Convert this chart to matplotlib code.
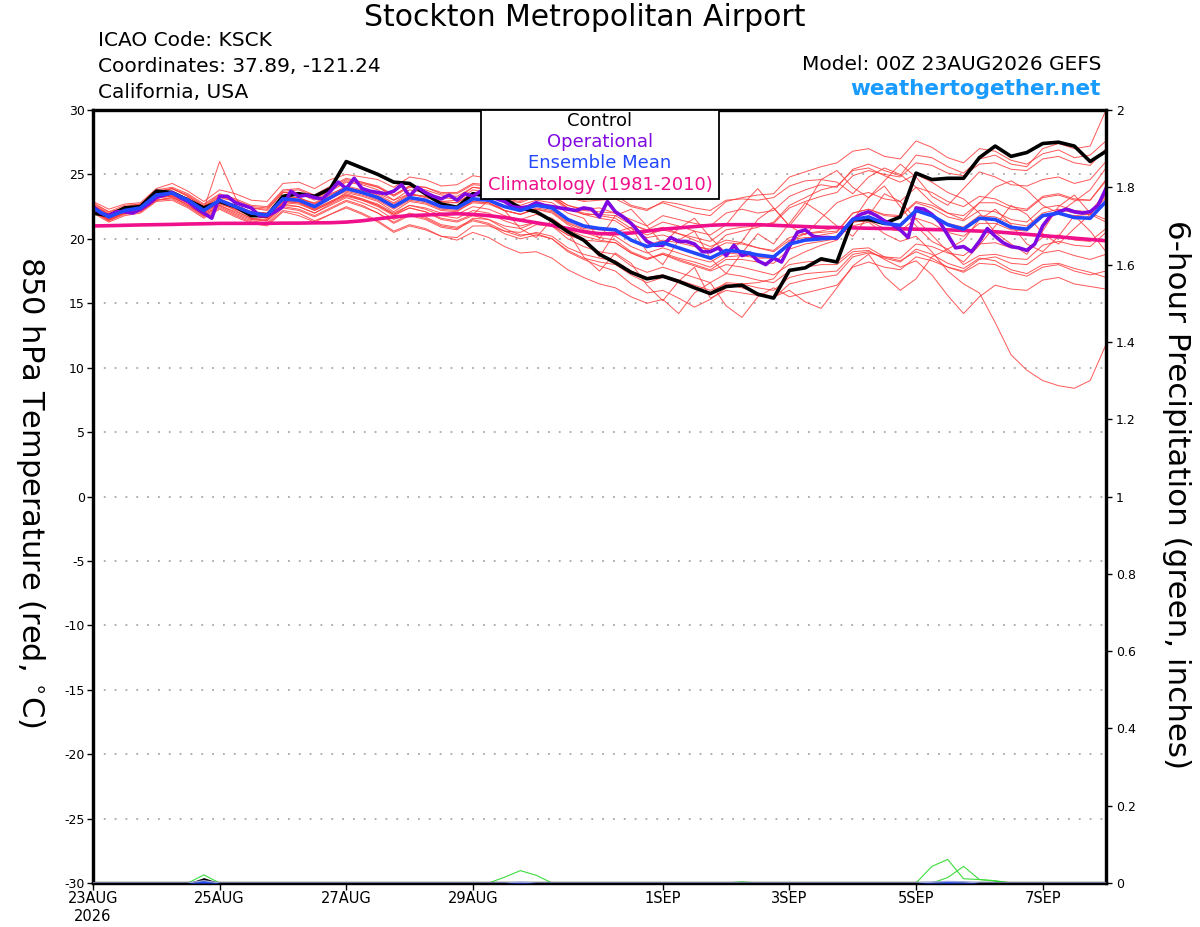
import matplotlib
matplotlib.use("Agg")
import matplotlib.pyplot as plt
from matplotlib.patches import Rectangle
from matplotlib.ticker import FormatStrFormatter
import numpy as np
import pandas as pd

START = "2026-08-23 00:00"
N6 = 65   # 6-hourly GEFS steps over 16 days
N3 = 129  # 3-hourly operational steps

CONTROL = [
    22.0, 21.8, 22.4, 22.5, 23.7, 23.6, 23.0, 22.4, 22.9, 22.5, 21.8, 21.8, 23.3, 23.5, 23.3, 23.9,
    26.0, 25.5, 25.0, 24.4, 24.3, 23.5, 22.7, 22.45, 23.5, 23.3, 23.1, 22.4, 22.1, 21.4, 20.55, 19.9,
    18.8, 18.15, 17.4, 16.9, 17.1, 16.7, 16.2, 15.75, 16.3, 16.4, 15.7, 15.4, 17.55, 17.75, 18.45, 18.2,
    21.5, 21.5, 21.2, 21.7, 25.1, 24.6, 24.7, 24.7, 26.3, 27.2, 26.4, 26.7, 27.4, 27.5, 27.2, 26.0, 26.8,
]

ENS_MEAN = [
    22.4, 21.7, 22.2, 22.4, 23.4, 23.55, 23.0, 22.2, 23.0, 22.5, 22.0, 21.85, 23.1, 23.0, 22.5, 23.2,
    23.9, 23.6, 23.2, 22.5, 23.2, 23.0, 22.5, 22.4, 23.1, 23.0, 22.5, 22.2, 22.6, 22.4, 21.5, 21.0,
    20.8, 20.7, 19.9, 19.4, 19.7, 19.3, 18.9, 18.5, 19.1, 19.0, 18.75, 18.6, 19.6, 19.9, 20.0, 20.1,
    21.5, 21.7, 21.2, 21.05, 22.2, 21.8, 21.1, 20.75, 21.6, 21.5, 20.9, 20.75, 21.8, 22.0, 21.65, 21.6, 22.9,
]

CLIMO = [
    21.0, 21.02, 21.05, 21.08, 21.1, 21.12, 21.15, 21.17, 21.2, 21.2, 21.2, 21.2, 21.22, 21.22, 21.24, 21.25,
    21.3, 21.4, 21.55, 21.7, 21.8, 21.85, 21.9, 21.95, 21.9, 21.8, 21.65, 21.45, 21.25, 21.05, 20.8, 20.55,
    20.4, 20.4, 20.45, 20.6, 20.75, 20.85, 20.95, 21.05, 21.1, 21.1, 21.1, 21.05, 21.0, 20.95, 20.9, 20.88,
    20.85, 20.82, 20.8, 20.78, 20.75, 20.72, 20.7, 20.65, 20.6, 20.55, 20.45, 20.35, 20.25, 20.15, 20.05, 19.95, 19.85,
]

OPERATIONAL = [
    22.5, 22.0, 21.8, 22.1, 22.1, 22.0, 22.3, 22.7, 23.2, 23.4, 23.6, 23.2, 22.9, 22.4, 22.0, 21.6,
    23.3, 23.3, 22.8, 22.6, 22.4, 21.8, 21.8, 22.1, 22.5, 23.7, 23.3, 23.4, 23.2, 23.1, 23.7, 24.4,
    23.9, 24.7, 23.9, 23.7, 23.6, 23.5, 23.7, 24.2, 23.3, 24.0, 23.6, 23.3, 23.1, 23.4, 23.0, 23.5,
    23.3, 23.7, 23.4, 23.1, 22.9, 22.5, 22.4, 22.5, 22.8, 22.6, 22.5, 22.4, 22.3, 22.2, 22.4, 22.3,
    21.7, 22.9, 22.1, 21.7, 21.2, 20.5, 19.8, 19.5, 19.5, 20.1, 19.8, 19.8, 19.6, 19.0, 19.0, 19.3,
    18.7, 19.5, 18.7, 18.9, 18.3, 18.0, 18.5, 18.2, 19.4, 20.5, 20.7, 20.2, 20.1, 20.1, 20.05, 20.8,
    21.5, 21.9, 22.1, 21.8, 21.4, 21.1, 20.7, 20.1, 22.4, 22.3, 21.9, 21.3, 20.3, 19.3, 19.4, 19.0,
    19.8, 20.8, 20.2, 19.7, 19.4, 19.3, 19.1, 19.6, 21.0, 21.8, 22.1, 22.3, 22.1, 22.0, 22.1, 22.6,
    23.9,
]

# 20 perturbed members (red)
MEMBERS = [
    [22.6, 21.9, 22.5, 22.7, 23.6, 23.9, 23.3, 22.5, 23.2, 22.9, 22.4, 22.2, 23.6, 23.5, 23.0, 23.7,
     24.4, 24.2, 23.8, 23.0, 23.8, 23.6, 23.2, 23.1, 24.0, 23.8, 23.3, 23.0, 23.6, 23.3, 22.6, 22.3,
     22.4, 22.0, 21.5, 21.0, 21.8, 21.5, 21.2, 21.0, 22.0, 22.3, 22.0, 22.2, 23.3, 23.8, 24.2, 24.0,
     25.4, 25.8, 25.3, 24.9, 26.5, 26.3, 25.6, 25.1, 26.2, 26.5, 25.8, 25.6, 27.0, 27.4, 27.0, 27.2, 30.0],
    [22.9, 22.3, 22.7, 22.8, 23.9, 24.3, 23.7, 22.9, 23.8, 23.5, 23.0, 22.9, 24.3, 24.4, 23.9, 24.6,
     25.0, 24.8, 24.6, 24.0, 24.8, 24.6, 24.1, 24.2, 24.9, 24.7, 24.1, 23.9, 24.3, 24.0, 23.3, 23.0,
     23.2, 23.4, 22.6, 22.3, 22.8, 22.4, 22.0, 21.8, 22.9, 23.2, 23.4, 23.5, 24.8, 25.2, 25.6, 25.9,
     26.8, 27.0, 26.4, 26.2, 27.6, 27.1, 26.3, 25.9, 27.0, 26.8, 26.1, 25.8, 26.6, 26.9, 26.3, 26.5, 27.6],
    [22.1, 21.4, 21.9, 22.1, 23.0, 23.2, 22.7, 21.9, 22.6, 22.1, 21.6, 21.4, 22.6, 22.5, 22.0, 22.7,
     23.3, 23.0, 22.6, 21.9, 22.6, 22.4, 22.0, 21.9, 22.5, 22.3, 21.8, 21.5, 21.9, 21.6, 20.7, 20.2,
     19.9, 19.7, 18.9, 18.4, 18.9, 18.5, 18.2, 17.8, 18.6, 18.7, 18.5, 18.5, 19.8, 20.4, 20.6, 20.9,
     21.0, 21.3, 20.4, 19.8, 20.2, 19.0, 17.5, 16.5, 15.8, 13.5, 11.0, 9.8, 9.0, 8.6, 8.4, 9.0, 11.8],
    [22.0, 21.3, 21.8, 22.0, 22.9, 23.0, 22.4, 21.6, 22.3, 21.7, 21.2, 21.0, 22.1, 21.8, 21.3, 21.9,
     22.5, 22.0, 21.4, 20.6, 21.1, 20.8, 20.2, 19.9, 20.5, 20.1, 19.4, 18.9, 19.0, 18.5, 17.6, 17.0,
     16.5, 16.2, 15.5, 15.0, 15.3, 14.2, 15.8, 16.6, 14.8, 13.9, 15.5, 16.2, 15.5, 15.8, 16.1, 16.4,
     17.8, 18.2, 17.8, 17.6, 18.6, 18.3, 17.8, 17.5, 18.4, 18.6, 18.1, 18.0, 18.9, 19.1, 18.7, 18.4, 18.8],
    [22.3, 21.6, 22.1, 22.2, 23.2, 23.3, 22.8, 22.0, 22.8, 22.3, 21.8, 21.6, 22.8, 22.7, 22.2, 22.8,
     23.4, 23.1, 22.7, 22.0, 22.6, 22.3, 21.8, 21.6, 22.2, 22.0, 21.4, 21.0, 21.3, 21.0, 20.0, 19.4,
     19.0, 18.8, 17.9, 17.4, 17.8, 17.4, 17.0, 16.6, 17.3, 17.1, 16.8, 16.6, 17.5, 17.8, 18.0, 18.0,
     19.0, 19.1, 18.4, 17.8, 18.3, 17.2, 15.6, 14.2, 15.5, 16.4, 16.1, 16.0, 16.8, 17.0, 16.5, 16.3, 16.1],
    [22.7, 22.1, 22.4, 22.6, 23.6, 23.9, 23.4, 22.6, 23.4, 23.0, 22.5, 22.4, 23.7, 23.8, 23.3, 24.0,
     24.6, 24.4, 24.1, 23.4, 24.1, 24.0, 23.6, 23.6, 24.3, 24.2, 23.7, 23.5, 24.0, 23.9, 23.2, 22.9,
     23.0, 23.1, 22.5, 22.2, 22.9, 22.7, 22.4, 22.2, 23.0, 23.1, 23.0, 23.2, 24.1, 24.5, 24.6, 24.4,
     23.5, 24.8, 25.5, 25.0, 24.0, 22.8, 22.0, 21.5, 22.8, 24.0, 24.5, 23.8, 22.6, 22.0, 22.9, 23.8, 25.5],
    [22.2, 21.5, 22.0, 22.3, 23.2, 23.3, 22.6, 21.8, 22.5, 21.9, 21.4, 21.2, 22.4, 22.2, 21.7, 22.3,
     22.9, 22.5, 22.0, 21.3, 21.9, 21.6, 21.0, 20.8, 21.4, 21.1, 20.4, 20.0, 20.3, 20.0, 19.1, 18.5,
     18.2, 18.0, 17.2, 16.6, 17.0, 16.6, 16.2, 15.8, 16.6, 16.5, 16.2, 16.0, 17.0, 17.3, 17.4, 17.5,
     18.8, 19.0, 18.5, 18.2, 19.2, 18.8, 18.1, 17.7, 18.5, 18.3, 17.6, 17.3, 18.0, 18.1, 17.7, 17.4, 17.0],
    [22.5, 21.8, 22.3, 22.5, 23.5, 23.7, 23.1, 22.3, 23.1, 22.6, 22.1, 22.0, 23.3, 23.2, 22.7, 23.4,
     24.1, 23.8, 23.4, 22.8, 23.5, 23.3, 22.8, 22.8, 23.5, 23.4, 22.9, 22.6, 23.0, 22.8, 22.0, 21.6,
     20.0, 21.8, 22.3, 21.0, 19.6, 20.8, 21.6, 20.1, 18.9, 19.8, 21.5, 22.4, 21.0, 20.3, 21.6, 22.8,
     23.3, 23.6, 23.1, 22.9, 24.0, 23.6, 22.9, 22.5, 23.3, 23.1, 22.5, 22.3, 23.3, 23.5, 23.1, 23.0, 24.5],
    [22.4, 21.7, 22.1, 22.3, 23.3, 23.4, 22.9, 22.1, 22.9, 22.4, 21.9, 21.8, 23.0, 22.9, 22.3, 22.9,
     23.5, 23.1, 22.6, 21.9, 22.4, 22.1, 21.5, 21.3, 21.8, 21.5, 20.8, 20.3, 20.4, 20.0, 19.0, 18.4,
     17.9, 17.5, 16.5, 15.8, 16.0, 15.4, 14.7, 15.3, 16.2, 16.5, 16.6, 16.9, 18.4, 19.0, 19.5, 19.9,
     21.3, 21.6, 21.1, 21.0, 22.1, 21.8, 21.2, 20.9, 21.8, 21.7, 21.2, 21.0, 22.0, 22.3, 22.0, 21.9, 23.2],
    [22.3, 21.6, 22.2, 22.5, 23.5, 23.4, 23.2, 22.3, 26.0, 23.2, 21.5, 21.4, 22.8, 23.1, 22.8, 23.5,
     24.0, 23.7, 23.5, 23.0, 23.5, 23.2, 22.9, 23.0, 23.8, 23.6, 23.0, 22.8, 23.3, 23.1, 22.3, 21.9,
     21.9, 21.8, 21.1, 20.7, 21.3, 21.0, 20.6, 20.3, 21.1, 22.6, 23.9, 22.4, 21.0, 22.5, 24.6, 25.3,
     24.0, 23.2, 24.5, 25.8, 24.8, 23.3, 22.6, 23.9, 25.2, 24.8, 24.2, 24.1, 24.6, 24.8, 24.3, 24.6, 26.0],
    [22.6, 21.9, 22.3, 22.4, 23.3, 23.5, 23.0, 22.2, 23.0, 22.4, 21.8, 21.7, 22.9, 22.8, 22.2, 22.8,
     23.6, 23.3, 22.9, 22.1, 22.9, 22.7, 22.2, 22.1, 22.9, 22.8, 22.2, 21.9, 22.3, 22.0, 21.1, 20.5,
     20.1, 19.9, 19.0, 18.5, 18.8, 18.3, 17.9, 17.5, 18.0, 17.8, 17.5, 17.2, 18.0, 18.2, 18.3, 18.2,
     19.2, 19.3, 18.6, 18.3, 19.0, 18.5, 17.8, 17.4, 18.1, 18.0, 17.4, 17.1, 17.8, 18.0, 17.5, 17.2, 17.5],
    [22.2, 21.5, 22.0, 22.3, 23.3, 23.6, 23.0, 22.1, 22.9, 22.4, 21.9, 21.7, 23.0, 22.9, 22.4, 23.1,
     23.8, 23.5, 23.1, 22.4, 23.1, 22.9, 22.4, 22.3, 22.9, 22.8, 22.2, 21.9, 22.4, 22.2, 21.3, 20.8,
     20.7, 20.6, 19.9, 19.5, 19.9, 19.7, 19.4, 19.2, 20.3, 20.6, 20.9, 21.3, 22.6, 23.2, 23.8, 24.1,
     25.3, 25.5, 24.9, 24.4, 25.0, 24.4, 23.6, 23.1, 22.0, 20.5, 19.6, 18.8, 20.6, 22.5, 23.4, 22.0, 21.5],
    [22.5, 21.8, 22.2, 22.4, 23.4, 23.5, 22.9, 22.1, 22.8, 22.2, 21.6, 21.5, 22.7, 22.5, 22.0, 22.6,
     23.2, 22.8, 22.3, 21.5, 22.0, 21.7, 21.1, 20.9, 21.5, 21.2, 20.6, 20.2, 20.5, 20.2, 19.3, 18.8,
     18.5, 18.3, 17.5, 17.0, 17.2, 16.8, 16.4, 16.0, 16.5, 16.2, 15.8, 15.5, 16.0, 15.1, 14.6, 16.2,
     17.9, 18.8, 17.1, 16.0, 16.9, 18.6, 19.2, 18.0, 18.7, 18.8, 18.5, 18.4, 19.5, 19.8, 19.5, 19.4, 20.5],
    [22.3, 21.6, 22.2, 22.4, 23.4, 23.6, 23.1, 22.3, 23.0, 22.5, 22.1, 21.9, 23.2, 23.2, 22.7, 23.3,
     24.0, 23.7, 23.3, 22.7, 23.4, 23.3, 22.9, 22.8, 23.6, 23.6, 23.1, 22.9, 23.5, 23.4, 22.6, 22.2,
     22.1, 22.0, 21.2, 20.6, 20.9, 20.4, 19.9, 19.4, 19.9, 19.7, 19.3, 19.0, 19.9, 20.1, 20.1, 20.2,
     21.3, 21.4, 20.8, 20.6, 21.6, 21.2, 20.5, 20.2, 21.2, 21.2, 20.7, 20.6, 21.7, 22.0, 21.8, 21.9, 23.4],
    [22.1, 21.4, 22.0, 22.2, 23.0, 23.1, 22.5, 21.7, 22.4, 21.8, 21.3, 21.1, 22.2, 22.0, 21.4, 21.9,
     22.4, 21.9, 21.3, 20.5, 21.0, 20.7, 20.2, 20.1, 21.0, 21.0, 20.6, 20.5, 21.1, 21.0, 20.3, 19.9,
     18.6, 20.5, 20.9, 19.0, 18.0, 19.9, 20.6, 18.5, 17.3, 18.9, 20.4, 19.6, 21.2, 22.8, 22.0, 21.0,
     20.2, 21.8, 23.5, 22.9, 21.5, 20.3, 19.0, 18.2, 19.5, 21.0, 22.6, 21.9, 20.4, 19.6, 20.8, 21.9, 21.3],
    [22.8, 22.1, 22.6, 22.7, 23.8, 24.0, 23.5, 22.7, 23.5, 23.1, 22.6, 22.5, 23.8, 23.9, 23.4, 24.1,
     24.7, 24.4, 24.0, 23.3, 24.0, 23.8, 23.4, 23.3, 24.0, 23.9, 23.4, 23.1, 23.5, 23.2, 22.4, 22.0,
     21.8, 21.6, 20.8, 20.3, 20.7, 20.4, 20.1, 19.8, 20.7, 20.9, 21.0, 21.2, 22.4, 22.9, 23.3, 23.6,
     24.9, 25.3, 25.0, 24.8, 25.9, 25.7, 25.1, 24.9, 25.8, 25.9, 25.4, 25.3, 26.2, 26.4, 25.9, 25.7, 27.0],
    [22.2, 21.5, 22.1, 22.3, 23.2, 23.4, 22.8, 22.0, 22.7, 22.3, 21.8, 21.6, 22.9, 22.8, 22.3, 22.9,
     23.4, 23.0, 22.5, 21.8, 22.4, 22.1, 21.6, 21.4, 21.9, 23.0, 22.2, 20.8, 20.1, 21.5, 20.6, 18.6,
     17.5, 18.9, 18.1, 16.4, 15.2, 16.7, 17.8, 15.4, 16.0, 15.8, 15.6, 15.4, 16.5, 16.8, 17.0, 17.2,
     18.6, 18.9, 18.6, 18.5, 19.6, 19.4, 18.9, 18.7, 19.6, 19.7, 19.3, 19.2, 20.1, 20.3, 19.9, 19.8, 20.8],
    [22.6, 22.0, 22.4, 22.6, 23.7, 23.9, 23.3, 22.5, 23.3, 22.9, 22.4, 22.3, 23.6, 23.6, 23.1, 23.8,
     24.5, 24.3, 24.0, 23.4, 24.1, 24.0, 23.5, 23.5, 24.2, 24.1, 23.6, 23.3, 23.6, 23.3, 22.4, 21.9,
     21.6, 21.4, 20.6, 20.1, 20.3, 19.9, 19.5, 19.1, 19.7, 19.6, 19.3, 19.1, 20.1, 20.4, 20.5, 20.6,
     22.0, 22.3, 21.8, 21.7, 22.8, 22.4, 21.7, 21.4, 22.2, 22.1, 21.5, 21.3, 22.4, 22.6, 22.2, 22.1, 23.6],
    [22.4, 21.7, 22.3, 22.5, 23.5, 23.6, 23.0, 22.2, 23.0, 22.6, 22.1, 22.0, 23.2, 23.0, 22.5, 23.1,
     23.7, 23.4, 23.0, 22.3, 23.0, 22.8, 22.3, 22.2, 22.8, 22.7, 22.2, 21.9, 22.3, 22.1, 21.2, 20.7,
     20.4, 20.2, 19.4, 18.9, 19.3, 18.9, 18.5, 18.2, 18.9, 18.8, 18.6, 18.5, 19.6, 20.0, 20.3, 20.5,
     22.0, 22.3, 21.9, 21.8, 22.9, 22.6, 22.0, 21.8, 22.8, 22.8, 22.3, 22.2, 23.2, 23.4, 23.0, 23.0, 24.6],
    [22.2, 21.5, 22.0, 22.1, 23.0, 23.2, 22.6, 21.8, 22.6, 22.0, 21.5, 21.4, 22.5, 22.3, 21.8, 22.4,
     23.0, 22.6, 22.0, 21.2, 21.8, 21.5, 20.9, 20.7, 21.6, 21.5, 21.0, 20.8, 21.3, 21.1, 20.3, 19.9,
     19.8, 19.7, 18.9, 18.4, 18.8, 18.4, 18.0, 17.6, 18.4, 18.4, 18.2, 18.1, 19.2, 19.6, 19.8, 20.0,
     21.4, 23.2, 24.1, 22.5, 21.0, 19.8, 19.2, 19.9, 21.5, 22.3, 21.1, 19.6, 19.0, 20.2, 21.8, 20.6, 19.0],
]

# 6-hour precipitation (inches): (step index, amount) for members with rain, rest are dry
PRCP_MEMBERS = [
    [(6, 0.0), (7, 0.021), (8, 0.0)],
    [(25, 0.0), (26, 0.015), (27, 0.032), (28, 0.02), (29, 0.0)],
    [(40, 0.0), (41, 0.003), (42, 0.0)],
    [(52, 0.0), (53, 0.043), (54, 0.061), (55, 0.011), (56, 0.009), (57, 0.005), (58, 0.0)],
    [(53, 0.0), (54, 0.014), (55, 0.043), (56, 0.009), (57, 0.006), (58, 0.0)],
]
PRCP_CONTROL = [(6, 0.0), (7, 0.014), (8, 0.0)]
PRCP_MEAN = [(6, 0.0), (7, 0.006), (8, 0.0), (26, 0.0), (27, 0.002), (28, 0.0),
             (53, 0.002), (54, 0.004), (55, 0.003), (56, 0.0)]

TICK_DATES = ["2026-08-23", "2026-08-25", "2026-08-27", "2026-08-29",
              "2026-09-01", "2026-09-03", "2026-09-05", "2026-09-07"]
TICK_LABELS = ["23AUG\n2026", "25AUG", "27AUG", "29AUG", "1SEP", "3SEP", "5SEP", "7SEP"]

RED = "#ff3a3a"
GREEN = "#3ddc3d"
PURPLE = "#8008e0"
BLUE = "#2248ff"
PINK = "#f0108c"
LINK = "#1a9bff"
W, H = 1200, 927

plt.rcParams["axes.unicode_minus"] = False


def sparse_series(pairs, n):
    out = np.zeros(n)
    for i, v in pairs:
        out[i] = v
    return out


def main() -> None:
    t6 = pd.date_range(START, periods=N6, freq="6h")
    t3 = pd.date_range(START, periods=N3, freq="3h")

    fig = plt.figure(figsize=(W / 100, H / 100), dpi=100)
    ax = fig.add_axes([93 / W, 44 / H, 1013 / W, 773 / H])
    ax2 = ax.twinx()

    for y in range(-25, 30, 5):
        ax.axhline(y, color="#a8a8a8", lw=1.3, ls=(0, (1, 5)), zorder=1)

    for m in MEMBERS:
        ax.plot(t6, m, color=RED, lw=0.7, alpha=0.85, zorder=2)
    ax.plot(t6, CLIMO, color=PINK, lw=2.6, zorder=3)
    ax.plot(t6, CONTROL, color="black", lw=2.6, zorder=4)
    ax.plot(t3, OPERATIONAL, color=PURPLE, lw=2.6, zorder=5)
    ax.plot(t6, ENS_MEAN, color=BLUE, lw=2.6, zorder=6)

    # precipitation on the right axis
    for pairs in PRCP_MEMBERS:
        ax2.plot(t6, sparse_series(pairs, N6), color=GREEN, lw=0.8, zorder=2)
    pc = sparse_series(PRCP_CONTROL, N6)
    pm = sparse_series(PRCP_MEAN, N6)
    ax2.fill_between(t6, 0, pc, color="black", lw=0, zorder=3)
    ax2.fill_between(t6, 0, pm, color=BLUE, lw=0, zorder=4)
    ax2.plot(t6, pm, color="#9aa6e0", lw=1.0, zorder=4)

    ax.set_xlim(t6[0], t6[-1])
    ax.set_ylim(-30, 30)
    ax2.set_ylim(0, 2)
    ax.set_yticks(range(-30, 31, 5))
    ax2.set_yticks(np.arange(0, 2.01, 0.2))
    ax2.yaxis.set_major_formatter(FormatStrFormatter("%g"))
    ax.set_xticks(pd.to_datetime(TICK_DATES))
    ax.set_xticklabels(TICK_LABELS)

    ax.tick_params(axis="y", direction="out", length=4, width=1, labelsize=9, pad=2)
    ax2.tick_params(axis="y", direction="out", length=4, width=1, labelsize=9, pad=3)
    ax.tick_params(axis="x", direction="out", length=5, width=1, labelsize=10.5, pad=1)
    for a in (ax, ax2):
        for s in a.spines.values():
            s.set_linewidth(2.3)

    # legend box
    ax2.add_patch(Rectangle((0.383, 0.885), 0.235, 0.115, transform=ax2.transAxes,
                            facecolor="white", edgecolor="black", lw=1.3, zorder=10))
    legend = [("Control", "black"), ("Operational", PURPLE),
              ("Ensemble Mean", BLUE), ("Climatology (1981-2010)", PINK)]
    for k, (txt, col) in enumerate(legend):
        ax2.text(0.5005, 0.986 - k * 0.0275, txt, color=col, fontsize=13,
                 ha="center", va="center", transform=ax2.transAxes, zorder=11)

    fig.text(585 / W, 1 - 18 / H, "Stockton Metropolitan Airport",
             fontsize=21.5, ha="center", va="center")
    fig.text(98 / W, 1 - 40 / H, "ICAO Code: KSCK", fontsize=14.5, va="center")
    fig.text(98 / W, 1 - 66 / H, "Coordinates: 37.89, -121.24", fontsize=14.5, va="center")
    fig.text(98 / W, 1 - 92 / H, "California, USA", fontsize=14.5, va="center")
    fig.text(1101 / W, 1 - 64 / H, "Model: 00Z 23AUG2026 GEFS", fontsize=14.5,
             ha="right", va="center")
    fig.text(1101 / W, 1 - 89 / H, "weathertogether.net", fontsize=15.5,
             fontweight="bold", color=LINK, ha="right", va="center")

    fig.text(30 / W, 1 - 492 / H, "850 hPa Temperature (red, $^{\\circ}$C)",
             fontsize=22, rotation=270, ha="center", va="center")
    fig.text(1176 / W, 1 - 495 / H, "6-hour Precipitation (green, inches)",
             fontsize=22.3, rotation=270, ha="center", va="center")

    fig.savefig("out.png", dpi=100)


if __name__ == "__main__":
    main()
